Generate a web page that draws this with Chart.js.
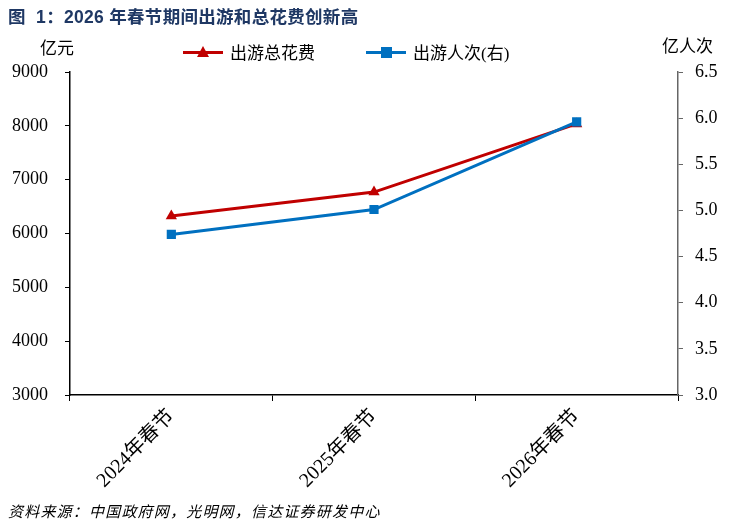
<!DOCTYPE html>
<html lang="zh">
<head>
    <meta charset="UTF-8">
    <title>2026年春节期间出游和总花费创新高</title>
    <script src="https://cdn.jsdelivr.net/npm/chart.js"></script>
    <style>
        body {
            margin: 0;
            background: #fff;
            font-family: 'Liberation Serif', 'Noto Sans CJK SC', serif;
            color: #000;
        }
        .wrap {
            position: relative;
            width: 733px;
            height: 524px;
            overflow: hidden;
        }
        canvas {
            position: absolute;
            left: 0;
            top: 0;
        }
        .title {
            position: absolute;
            left: 8px;
            top: 3px;
            font-family: 'Liberation Sans', 'Noto Sans CJK SC', sans-serif;
            font-weight: bold;
            font-size: 17.5px;
            letter-spacing: 0.3px;
            color: #1f3864;
            white-space: nowrap;
        }
        .unit {
            position: absolute;
            font-size: 17px;
            white-space: nowrap;
        }
        .legend {
            position: absolute;
            top: 39px;
            left: 183px;
            display: flex;
            align-items: center;
            font-size: 17px;
            white-space: nowrap;
        }
        .item {
            display: flex;
            align-items: center;
            margin-right: 51px;
        }
        .sym {
            position: relative;
            width: 40px;
            height: 14px;
            margin-right: 7px;
        }
        .sym .ln {
            position: absolute;
            left: 0;
            right: 0;
            top: 6px;
            height: 3px;
        }
        .tri {
            position: absolute;
            left: 14px;
            top: 1px;
            width: 0;
            height: 0;
            border-left: 6px solid transparent;
            border-right: 6px solid transparent;
            border-bottom: 11px solid #c00000;
        }
        .sq {
            position: absolute;
            left: 15px;
            top: 2px;
            width: 11px;
            height: 11px;
            background: #0070c0;
        }
        .source {
            position: absolute;
            left: 8px;
            top: 500px;
            font-size: 15px;
            font-style: italic;
            letter-spacing: 1.2px;
            white-space: nowrap;
        }
    </style>
</head>
<body>
<div class="wrap">
    <canvas id="tripChart" width="733" height="524"></canvas>
    <div class="title">图&nbsp; 1：2026 年春节期间出游和总花费创新高</div>
    <div class="unit" style="left:40px; top:34px;">亿元</div>
    <div class="unit" style="left:662px; top:32px;">亿人次</div>
    <div class="legend">
        <div class="item">
            <div class="sym"><div class="ln" style="background:#c00000"></div><div class="tri"></div></div>
            <span>出游总花费</span>
        </div>
        <div class="item">
            <div class="sym"><div class="ln" style="background:#0070c0"></div><div class="sq"></div></div>
            <span>出游人次(右)</span>
        </div>
    </div>
    <div class="source">资料来源：中国政府网，光明网，信达证券研发中心</div>
</div>

<script>
    const categories = ['2024年春节', '2025年春节', '2026年春节'];
    const totalSpending = [6326.87, 6770.02, 8035];   // 亿元, left axis
    const tripCount = [4.74, 5.01, 5.96];              // 亿人次, right axis
    const leftTicks = [3000, 4000, 5000, 6000, 7000, 8000, 9000];
    const rightTicks = [3.0, 3.5, 4.0, 4.5, 5.0, 5.5, 6.0, 6.5];

    Chart.defaults.font.family = "'Liberation Serif', 'Noto Sans CJK SC', serif";
    Chart.defaults.color = '#000';

    const ctx = document.getElementById('tripChart').getContext('2d');

    new Chart(ctx, {
        type: 'line',
        data: {
            labels: categories,
            datasets: [
                {
                    label: '出游人次(右)',
                    data: tripCount,
                    yAxisID: 'y2',
                    borderColor: '#0070c0',
                    backgroundColor: '#0070c0',
                    borderWidth: 3,
                    pointStyle: 'rect',
                    pointRadius: 6.5,
                    pointBorderWidth: 0,
                    tension: 0,
                    order: 0
                },
                {
                    label: '出游总花费',
                    data: totalSpending,
                    yAxisID: 'y',
                    borderColor: '#c00000',
                    backgroundColor: '#c00000',
                    borderWidth: 3,
                    pointStyle: 'triangle',
                    pointRadius: 6.5,
                    pointBorderWidth: 0,
                    tension: 0,
                    order: 1
                }
            ]
        },
        options: {
            responsive: false,
            animation: false,
            layout: { padding: { top: 72, left: 0, right: 0, bottom: 0 } },
            plugins: {
                legend: { display: false },
                tooltip: { enabled: false }
            },
            scales: {
                x: {
                    offset: true,
                    afterFit: s => { s.height = 129; },
                    grid: {
                        offset: true,
                        drawOnChartArea: false,
                        tickLength: 6,
                        color: '#000'
                    },
                    border: { color: '#000', width: 1.5 },
                    ticks: {
                        font: { size: 20 },
                        minRotation: 45,
                        maxRotation: 45,
                        padding: 4
                    }
                },
                y: {
                    position: 'left',
                    min: leftTicks[0],
                    max: leftTicks[leftTicks.length - 1],
                    afterFit: s => { s.width = 70; },
                    afterBuildTicks: s => { s.ticks = leftTicks.map(v => ({ value: v })); },
                    grid: {
                        drawOnChartArea: false,
                        tickLength: 5,
                        color: '#000'
                    },
                    border: { color: '#000', width: 1.5 },
                    ticks: {
                        font: { size: 18 },
                        padding: 17,
                        callback: v => String(v)
                    }
                },
                y2: {
                    position: 'right',
                    min: rightTicks[0],
                    max: rightTicks[rightTicks.length - 1],
                    afterFit: s => { s.width = 55; },
                    afterBuildTicks: s => { s.ticks = rightTicks.map(v => ({ value: v })); },
                    grid: {
                        drawOnChartArea: false,
                        tickLength: 5,
                        color: '#666'
                    },
                    border: { color: '#666', width: 1.5 },
                    ticks: {
                        font: { size: 18 },
                        padding: 12,
                        callback: v => Number(v).toFixed(1)
                    }
                }
            }
        }
    });
</script>
</body>
</html>
